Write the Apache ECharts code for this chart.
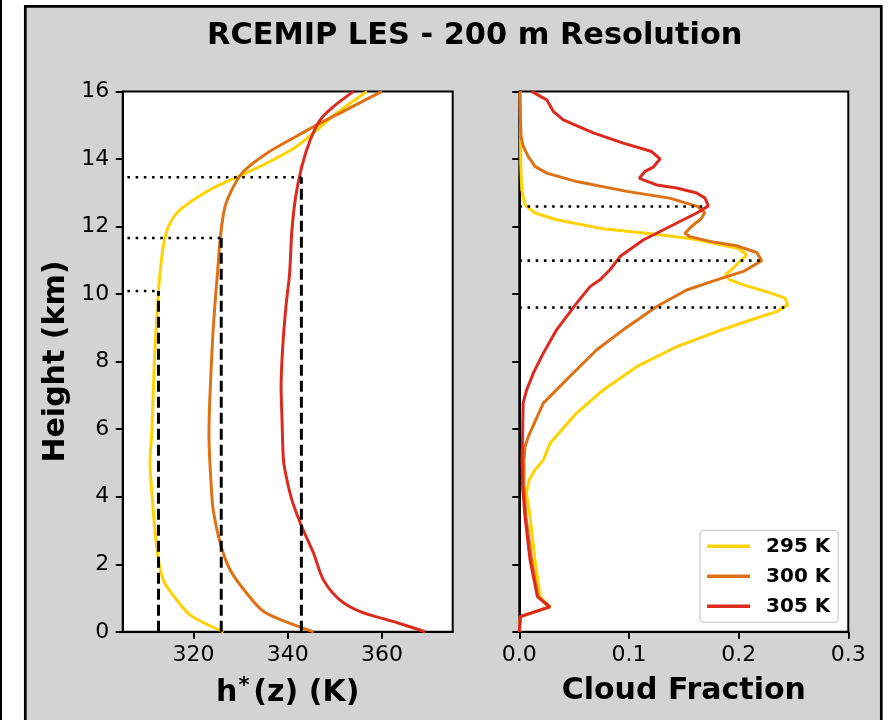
<!DOCTYPE html>
<html>
<head>
<meta charset="utf-8">
<script src="https://cdn.jsdelivr.net/npm/echarts@6/dist/echarts.min.js"></script>
<style>html,body{margin:0;padding:0;background:#fff;}#c{width:891px;height:720px;}</style>
</head>
<body>
<div id="c"></div>
<script>
// ---- data: [value, height (km)] ----
const seriesNames = ['295 K', '300 K', '305 K'];
const hstar295 = [[326.4,0],[319.3,0.5],[315.4,1.14],[313.6,1.53],[312.6,2.13],[311.9,2.92],[311.2,4.1],[310.8,5.0],[311.2,5.98],[311.7,7.95],[312.2,9.24],[312.6,10.09],[312.9,10.6],[313.6,11.41],[314.7,12.0],[316.5,12.4],[320,12.79],[324.2,13.14],[329.2,13.46],[335.6,13.88],[341.9,14.37],[346.2,14.86],[350.4,15.36],[356.8,16.0]];
const hstar300 = [[345.5,0],[340.5,0.25],[334.9,0.6],[331.3,1.14],[327.8,1.83],[325.7,2.62],[324.2,3.61],[323.7,4.5],[323.4,5.3],[323.3,5.88],[323.5,6.96],[324.1,8.74],[324.7,9.93],[325.1,10.6],[325.7,11.66],[326.7,12.59],[328.5,13.18],[330.6,13.63],[335.6,14.17],[341.2,14.62],[346.9,15.06],[351.8,15.41],[360,16.0]];
const hstar305 = [[369.2,0],[362.5,0.3],[355.4,0.6],[351.1,0.94],[347.6,1.53],[345.5,2.32],[343,3.11],[340.9,3.9],[339.7,4.59],[339.1,5.09],[338.8,6.27],[338.6,7.26],[339,8.55],[339.7,9.73],[340.4,10.6],[340.9,11.9],[341.7,12.89],[343,13.78],[344.8,14.57],[346.9,15.16],[349.7,15.55],[354,16.0]];
const cf295 = [[0,0],[0.001,0.45],[0.028,0.74],[0.019,1.04],[0.0143,2.13],[0.0098,3.41],[0.0065,4.1],[0.009,4.5],[0.0143,4.79],[0.022,5.09],[0.028,5.58],[0.052,6.47],[0.0766,7.16],[0.107,7.85],[0.1435,8.44],[0.18,8.89],[0.2165,9.29],[0.2347,9.48],[0.2447,9.68],[0.2423,9.88],[0.2295,10.03],[0.2043,10.27],[0.192,10.42],[0.188,10.57],[0.195,10.77],[0.2074,11.16],[0.2,11.35],[0.175,11.52],[0.1587,11.63],[0.1222,11.78],[0.0766,11.93],[0.034,12.2],[0.0143,12.4],[0.0052,12.64],[0.0022,13.09],[0.0013,13.88],[0.001,16]];
const cf300 = [[0,0],[0.001,0.45],[0.027,0.74],[0.017,1.04],[0.0113,2.13],[0.0061,3.41],[0.0043,4.3],[0.0043,5.09],[0.0052,5.48],[0.0082,5.78],[0.0219,6.77],[0.046,7.56],[0.0706,8.35],[0.0948,8.94],[0.1253,9.63],[0.1526,10.12],[0.18,10.42],[0.2043,10.67],[0.221,10.99],[0.2165,11.23],[0.198,11.43],[0.174,11.56],[0.1556,11.7],[0.151,11.8],[0.157,12.0],[0.1663,12.25],[0.169,12.41],[0.163,12.59],[0.137,12.84],[0.098,13.04],[0.0523,13.33],[0.025,13.58],[0.0143,13.78],[0.0082,14.07],[0.0036,14.37],[0.0016,14.67],[0.001,15.16],[0.0005,16]];
const cf305 = [[0,0],[0.001,0.45],[0.028,0.74],[0.0165,1.04],[0.0098,2.13],[0.0052,3.41],[0.003,4.3],[0.0025,5.09],[0.003,5.78],[0.0035,6.77],[0.0067,7.16],[0.0128,7.66],[0.0219,8.25],[0.034,8.94],[0.0523,9.73],[0.0645,10.22],[0.0736,10.42],[0.0827,10.72],[0.0918,11.11],[0.113,11.6],[0.1374,12.0],[0.1618,12.4],[0.1724,12.61],[0.1693,12.84],[0.1618,12.99],[0.1435,13.14],[0.1253,13.23],[0.113,13.38],[0.1094,13.43],[0.1146,13.63],[0.1222,13.76],[0.1283,14.0],[0.1207,14.22],[0.0948,14.47],[0.0675,14.77],[0.0401,15.16],[0.031,15.41],[0.025,15.75],[0.0128,15.97],[0.011,16]];
// reference markers
const hstarRefX = [312.6, 325.9, 342.9];
const hstarRefZ = [10.09, 11.66, 13.46];
const hstarRefStart = 306;
const cfRefX = [0.2445, 0.22, 0.171];
const cfRefZ = [9.6, 10.99, 12.59];
// ticks
const hstarTicks = [320, 340, 360];
const cfTicks = [0.0, 0.1, 0.2, 0.3];
const heightTicks = [0, 2, 4, 6, 8, 10, 12, 14, 16];

const colors = ['#FFD200', '#DE7114', '#DC2B1E'];
const FONT = 'DejaVu Sans';

const chart = echarts.init(document.getElementById('c'), null, {renderer: 'canvas'});

function profile(name, data, color, ai, smooth) {
  return {type: 'line', name: name, data: data, xAxisIndex: ai, yAxisIndex: ai,
    showSymbol: false, symbol: 'none', smooth: smooth, clip: true,
    lineStyle: {color: color, width: 3}, itemStyle: {color: color}, z: 3, silent: true};
}
function refLine(data, type, ai) {
  return {type: 'line', data: data, xAxisIndex: ai, yAxisIndex: ai, symbol: 'none', showSymbol: false,
    lineStyle: {color: '#000', width: type === 'dotted' ? 2.6 : 3, type: type === 'dotted' ? [2.6, 5.6] : [11, 5]},
    z: 5, silent: true};
}

const series = [
  profile(seriesNames[0], hstar295, colors[0], 0, 0.3),
  profile(seriesNames[1], hstar300, colors[1], 0, 0.3),
  profile(seriesNames[2], hstar305, colors[2], 0, 0.3),
  profile(seriesNames[0], cf295, colors[0], 1, false),
  profile(seriesNames[1], cf300, colors[1], 1, false),
  profile(seriesNames[2], cf305, colors[2], 1, false)
];
hstarRefX.forEach((x, i) => {
  series.push(refLine([[hstarRefStart, hstarRefZ[i]], [x, hstarRefZ[i]]], 'dotted', 0));
  series.push(refLine([[x, 0], [x, hstarRefZ[i]]], 'dashed', 0));
});
cfRefX.forEach((x, i) => {
  series.push(refLine([[0, cfRefZ[i]], [x, cfRefZ[i]]], 'dotted', 1));
});

const axisCommon = {
  axisLine: {show: true, onZero: false, lineStyle: {color: '#000', width: 2}},
  axisTick: {show: true, inside: false, length: 7, lineStyle: {color: '#000', width: 2}},
  splitLine: {show: false},
  nameTextStyle: {fontFamily: FONT, fontWeight: 'bold', fontSize: 30, color: '#000'}
};

const option = {
  backgroundColor: '#ffffff',
  animation: false,
  graphic: [
    {type: 'rect', shape: {x: 0, y: 0, width: 2, height: 720}, style: {fill: '#000'}, z: -10},
    {type: 'rect', shape: {x: 25.3, y: 6.3, width: 856, height: 730}, style: {fill: '#d3d3d3', stroke: '#000', lineWidth: 2.7}, z: -10}
  ],
  title: {
    text: 'RCEMIP LES - 200 m Resolution',
    left: 202, top: 16,
    textStyle: {fontFamily: FONT, fontWeight: 'bold', fontSize: 30.4, color: '#000'}
  },
  legend: {
    data: seriesNames,
    orient: 'vertical',
    right: 52.7, bottom: 97.7,
    icon: 'rect', itemWidth: 43, itemHeight: 3.5, itemGap: 10,
    padding: [6, 8, 6, 7],
    backgroundColor: 'rgba(255,255,255,0.85)', borderColor: '#cccccc', borderWidth: 1.3, borderRadius: 4,
    textStyle: {fontFamily: FONT, fontWeight: 'bold', fontSize: 20, color: '#000', padding: [0, 0, 0, 11]},
    selectedMode: false
  },
  grid: [
    {left: 122.7, top: 91.4, width: 330, height: 540.4, show: true, backgroundColor: '#fff', borderColor: '#000', borderWidth: 2},
    {left: 519.3, top: 91.4, width: 329, height: 540.4, show: true, backgroundColor: '#fff', borderColor: '#000', borderWidth: 2}
  ],
  xAxis: [
    Object.assign({}, axisCommon, {
      type: 'value', gridIndex: 0, min: 305, max: 375,
      name: '{a|h}{s|*}{a|(z) (K)}', nameLocation: 'middle', nameGap: 44,
      nameTextStyle: {fontFamily: FONT, fontWeight: 'bold', fontSize: 30, color: '#000',
        rich: {a: {fontFamily: FONT, fontWeight: 'bold', fontSize: 30, color: '#000'},
               s: {fontFamily: FONT, fontWeight: 'bold', fontSize: 21, color: '#000', padding: [0, 4, 14, 1]}}},
      axisTick: {show: true, length: 7, customValues: hstarTicks, lineStyle: {color: '#000', width: 2}},
      axisLabel: {customValues: hstarTicks, margin: 12, fontFamily: FONT, fontSize: 22, color: '#000'}
    }),
    Object.assign({}, axisCommon, {
      type: 'value', gridIndex: 1, min: 0, max: 0.3, interval: 0.1,
      name: 'Cloud Fraction', nameLocation: 'middle', nameGap: 44,
      axisTick: {show: true, length: 7, customValues: cfTicks, lineStyle: {color: '#000', width: 2}},
      axisLabel: {customValues: cfTicks, margin: 12, fontFamily: FONT, fontSize: 22, color: '#000',
        formatter: v => Number(v).toFixed(1)}
    })
  ],
  yAxis: [
    Object.assign({}, axisCommon, {
      type: 'value', gridIndex: 0, min: 0, max: 16, interval: 2,
      name: 'Height (km)', nameLocation: 'middle', nameGap: 51,
      axisTick: {show: true, length: 7, customValues: heightTicks, lineStyle: {color: '#000', width: 2}},
      axisLabel: {customValues: heightTicks, margin: 13.5, fontFamily: FONT, fontSize: 22, color: '#000'}
    }),
    Object.assign({}, axisCommon, {
      type: 'value', gridIndex: 1, min: 0, max: 16, interval: 2,
      axisTick: {show: true, length: 7, customValues: heightTicks, lineStyle: {color: '#000', width: 2}},
      axisLabel: {show: false}
    })
  ],
  series: series
};
chart.setOption(option);
</script>
</body>
</html>
